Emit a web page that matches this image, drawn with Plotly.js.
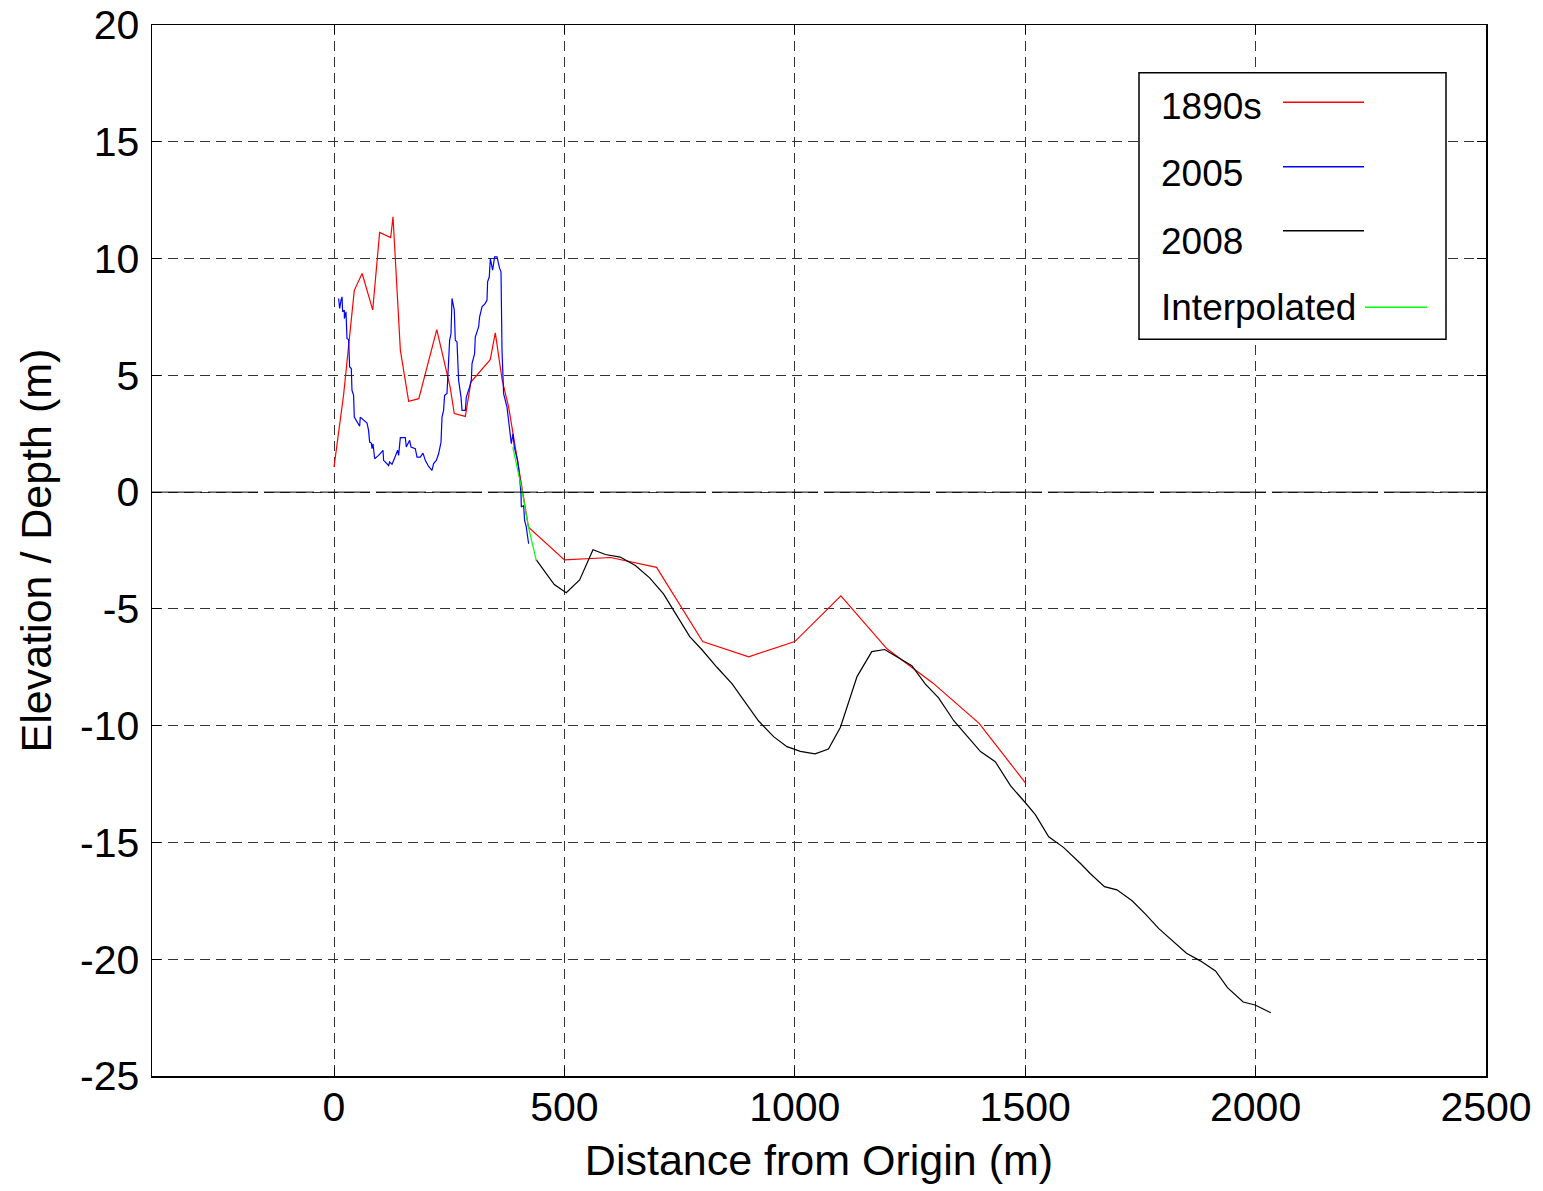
<!DOCTYPE html>
<html>
<head>
<meta charset="utf-8">
<script src="https://cdn.plot.ly/plotly-3.0.1.min.js"></script>
<style>html,body{margin:0;padding:0;background:#fff;}#chart{width:1543px;height:1191px;}</style>
</head>
<body>
<div id="chart"></div>
<script>
// ---- Data ----
const seriesNames = ["1890s", "2005", "2008", "Interpolated"];

const x1890 = [0, 21, 44, 61, 84, 99, 123, 128, 144, 162, 184, 223, 252, 261, 285, 297, 339, 350, 365, 379, 388, 422, 500, 600, 700, 800, 900, 1000, 1100, 1200, 1300, 1400, 1500];
const y1890 = [1.07, 4.2, 8.64, 9.36, 7.8, 11.12, 10.9, 11.79, 6.07, 3.89, 4.0, 6.96, 4.5, 3.36, 3.24, 4.71, 5.67, 6.82, 4.79, 3.64, 2.57, -1.5, -2.9, -2.8, -3.22, -6.4, -7.05, -6.4, -4.44, -6.71, -8.18, -9.9, -12.44];

const x2005 = [10.0,12.2,15.2,17.4,18.7,22.4,22.4,26.0,28.2,31.7,33.9,37.5,39.0,42.5,44.0,47.7,51.2,55.6,57.0,64.2,71.6,75.0,77.3,81.0,82.5,84.6,86.0,88.2,96.8,106.3,107.6,118.5,120.7,125.9,130.9,135.2,138.0,140.2,143.9,154.7,156.9,164.1,167.1,176.4,180.1,187.3,193.1,198.1,205.3,212.7,216.1,222.0,227.0,232.2,234.4,237.8,240.0,245.2,248.7,250.9,253.9,256.0,261.0,263.2,266.9,270.4,275.6,277.8,285.0,287.1,294.3,298.0,299.5,305.1,306.6,313.8,316.0,321.2,328.3,332.0,333.3,337.0,339.2,344.2,348.5,353.7,359.4,362.4,364.6,368.0,375.4,379.8,384.8,388.4,391.3,398.4,402.1,405.8,406.5,411.5,413.6,417.3,422.3];
const y2005 = [8.29,7.86,8.22,8.36,7.72,7.79,7.43,7.72,6.57,6.53,5.36,5.29,4.36,4.14,3.21,3.07,3.00,2.82,3.21,3.07,2.96,2.64,2.14,2.10,1.86,2.07,1.86,1.43,1.57,1.79,1.36,1.14,1.29,1.19,1.43,1.64,1.79,1.57,2.33,2.33,1.93,2.22,1.93,1.86,1.50,1.50,1.67,1.36,1.10,0.93,1.22,1.36,1.64,2.14,3.21,3.50,4.14,4.22,5.36,6.50,6.79,8.29,7.79,6.50,6.43,4.79,4.07,3.50,3.50,4.07,4.50,4.79,5.50,5.93,6.64,7.07,7.50,7.93,8.08,8.22,9.00,9.22,10.00,9.50,10.07,10.07,9.58,9.43,6.07,4.22,3.64,2.79,2.07,2.50,1.93,1.36,0.79,-0.07,-0.64,-0.57,-1.21,-1.50,-2.21];

const x2008 = [439, 478, 504, 533, 562, 589, 621, 654, 685, 715, 744, 772, 799, 831, 864, 893, 921, 954, 983, 1012, 1044, 1073, 1099, 1135, 1167, 1195, 1229, 1254, 1283, 1312, 1345, 1374, 1403, 1435, 1468, 1500, 1522, 1551, 1583, 1620, 1641, 1672, 1699, 1732, 1761, 1790, 1821, 1850, 1880, 1913, 1939, 1973, 1999, 2033];
const y2008 = [-2.9, -3.96, -4.31, -3.76, -2.47, -2.67, -2.78, -3.14, -3.67, -4.36, -5.29, -6.19, -6.76, -7.5, -8.21, -9.0, -9.79, -10.47, -10.9, -11.1, -11.21, -11.0, -10.07, -7.9, -6.83, -6.74, -7.14, -7.43, -8.21, -8.81, -9.79, -10.43, -11.11, -11.54, -12.57, -13.29, -13.81, -14.76, -15.21, -15.9, -16.33, -16.89, -17.03, -17.5, -18.07, -18.69, -19.22, -19.74, -20.07, -20.5, -21.22, -21.83, -21.96, -22.29];

const xInterp = [388, 408, 422, 439];
const yInterp = [1.93, 0.07, -1.5, -2.93];

const xTickVals = [0, 500, 1000, 1500, 2000, 2500];
const xTickText = ["0", "500", "1000", "1500", "2000", "2500"];
const yTickVals = [-25, -20, -15, -10, -5, 0, 5, 10, 15, 20];
const yTickText = ["-25", "-20", "-15", "-10", "-5", "0", "5", "10", "15", "20"];

const xTitle = "Distance from Origin (m)";
const yTitle = "Elevation / Depth (m)";

// ---- Styling ----
const FONT = "Liberation Sans, Arial, Helvetica, sans-serif";
const colors = ["#ff0000", "#0000ff", "#000000", "#00ff00"];
const W = 1543, H = 1191;
const M = {l: 152, r: 57, t: 25, b: 115};
const PW = W - M.l - M.r, PH = H - M.t - M.b;
const px2x = p => (p - M.l) / PW;
const py2y = p => (H - M.b - p) / PH;

const traces = [
  {x: x1890, y: y1890, name: seriesNames[0], mode: "lines", line: {color: colors[0], width: 1.2}},
  {x: x2005, y: y2005, name: seriesNames[1], mode: "lines", line: {color: colors[1], width: 1.2}},
  {x: x2008, y: y2008, name: seriesNames[2], mode: "lines", line: {color: colors[2], width: 1.2}},
  {x: xInterp, y: yInterp, name: seriesNames[3], mode: "lines", line: {color: colors[3], width: 1.2}}
];

// custom legend (MATLAB style: text left, sample line right)
const legRows = [
  {text: seriesNames[0], ty: 106.5, ly: 102.3, lx0: 1283, lx1: 1364, c: colors[0]},
  {text: seriesNames[1], ty: 174, ly: 166.7, lx0: 1283, lx1: 1364, c: colors[1]},
  {text: seriesNames[2], ty: 241, ly: 230.7, lx0: 1283, lx1: 1364, c: colors[2]},
  {text: seriesNames[3], ty: 307, ly: 307.3, lx0: 1365, lx1: 1427, c: colors[3]}
];
const shapes = [
  {type: "line", xref: "paper", yref: "y", x0: 0, x1: 1, y0: 0, y1: 0,
   line: {color: "#000", width: 1, dash: "50px,6px"}, layer: "above"},
  {type: "rect", xref: "paper", yref: "paper", x0: px2x(1139), x1: px2x(1446), y0: py2y(339.3), y1: py2y(72.7),
   line: {color: "#000", width: 1.5}, fillcolor: "#fff", layer: "above"}
];
const annotations = [];
legRows.forEach(r => {
  shapes.push({type: "line", xref: "paper", yref: "paper", x0: px2x(r.lx0), x1: px2x(r.lx1), y0: py2y(r.ly), y1: py2y(r.ly),
    line: {color: r.c, width: 1.4}, layer: "above"});
  annotations.push({xref: "paper", yref: "paper", x: px2x(1159), y: py2y(r.ty), xanchor: "left", yanchor: "middle",
    text: r.text, showarrow: false, font: {family: FONT, size: 37, color: "#000"}});
});

const axisCommon = {
  showline: true, linecolor: "#000", linewidth: 1.5, mirror: "ticks",
  ticks: "inside", ticklen: 9, tickwidth: 1, tickcolor: "#000",
  showgrid: true, gridcolor: "#333", gridwidth: 1, griddash: "10px,6px",
  zeroline: false, tickfont: {family: FONT, size: 41, color: "#000"}, tickmode: "array"
};

const layout = {
  width: W, height: H, margin: M, paper_bgcolor: "#fff", plot_bgcolor: "#fff",
  showlegend: false, font: {family: FONT, color: "#000"},
  xaxis: Object.assign({}, axisCommon, {
    range: [-395, 2500], tickvals: xTickVals, ticktext: xTickText, ticklabelstandoff: -6,
    title: {text: xTitle, font: {family: FONT, size: 43, color: "#000"}, standoff: 16}
  }),
  yaxis: Object.assign({}, axisCommon, {
    range: [-25, 20], tickvals: yTickVals, ticktext: yTickText, ticklabelstandoff: 3,
    title: {text: yTitle, font: {family: FONT, size: 43, color: "#000"}, standoff: 15}
  }),
  shapes: shapes, annotations: annotations
};

Plotly.newPlot("chart", traces, layout, {displayModeBar: false, staticPlot: true});
</script>
</body>
</html>
